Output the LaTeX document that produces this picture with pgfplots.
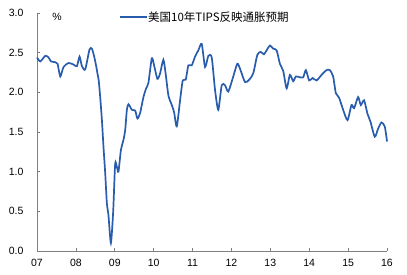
\documentclass[border=0pt]{standalone}
\usepackage{pgfplots}
\pgfplotsset{compat=1.18}
\usepackage{fontspec}
\setmainfont{Liberation Sans}
\newfontfamily\cjk{Noto Sans CJK SC}
\definecolor{line}{RGB}{40,92,172}
\definecolor{axgray}{RGB}{128,128,128}
\begin{document}
\begin{tikzpicture}[x=1pt,y=1pt]
\begin{axis}[
  scale only axis, width=350pt, height=238pt,
  xmin=7, xmax=16, ymin=0, ymax=3,
  axis lines=left, axis line style={axgray, line width=0.6pt, -},
  tick align=inside, tick style={axgray, line width=0.6pt},
  major tick length=3pt,
  xtick={7,...,16},
  xticklabels={07,08,09,10,11,12,13,14,15,16},
  ytick={0,0.5,...,3.0},
  yticklabel style={/pgf/number format/.cd, fixed, fixed zerofill, precision=1, /tikz/.cd, xshift=-10pt},
  xticklabel style={yshift=-4.5pt},
  /pgf/number format/assume math mode=true,
  tick label style={font=\fontsize{10.5}{12}\selectfont, text=black},
  clip=false,
]
\addplot[line, line width=1.7pt, smooth, tension=0.4] coordinates {
(7.000,2.44) (7.085,2.39) (7.213,2.46) (7.298,2.44) (7.359,2.39) (7.470,2.38)
(7.529,2.36) (7.598,2.20) (7.683,2.32) (7.811,2.37) (7.940,2.35) (8.027,2.33)
(8.094,2.45) (8.155,2.33) (8.240,2.29) (8.350,2.54) (8.412,2.55) (8.471,2.45)
(8.522,2.33) (8.561,2.22) (8.587,2.15) (8.625,1.94) (8.669,1.65) (8.710,1.31)
(8.754,0.98) (8.797,0.60) (8.838,0.45) (8.900,0.10) (8.959,0.50) (9.010,1.10)
(9.054,1.06) (9.095,1.00) (9.157,1.27) (9.223,1.40) (9.267,1.52) (9.311,1.78)
(9.352,1.85) (9.439,1.78) (9.524,1.77) (9.583,1.67) (9.652,1.74) (9.737,1.94)
(9.806,2.05) (9.865,2.12) (9.952,2.43) (10.011,2.34) (10.096,2.17) (10.166,2.24)
(10.250,2.41) (10.312,2.22) (10.379,1.96) (10.466,1.84) (10.525,1.75) (10.594,1.57)
(10.679,1.90) (10.748,2.15) (10.825,2.16) (10.892,2.34) (10.979,2.34) (11.064,2.45)
(11.149,2.53) (11.236,2.61) (11.321,2.32) (11.406,2.46) (11.493,2.44) (11.578,2.03)
(11.662,1.78) (11.750,2.09) (11.834,2.09) (11.919,2.01) (12.047,2.20) (12.150,2.36)
(12.219,2.30) (12.348,2.13) (12.458,2.16) (12.561,2.24) (12.664,2.47) (12.751,2.51)
(12.836,2.48) (12.905,2.53) (12.990,2.59) (13.074,2.55) (13.162,2.53) (13.246,2.36)
(13.331,2.27) (13.419,2.05) (13.503,2.22) (13.588,2.14) (13.657,2.20) (13.760,2.19)
(13.845,2.19) (13.914,2.28) (13.999,2.15) (14.086,2.18) (14.189,2.15) (14.317,2.22)
(14.445,2.28) (14.530,2.28) (14.615,2.20) (14.684,1.99) (14.769,1.93) (14.872,1.78)
(14.985,1.65) (15.087,1.84) (15.154,1.80) (15.257,1.94) (15.326,1.84) (15.411,1.90)
(15.498,1.73) (15.575,1.63) (15.685,1.44) (15.770,1.54) (15.857,1.62) (15.942,1.57)
(16.001,1.38)
};
\draw[line, line width=1.7pt] (axis description cs:0.237,0.983) -- (axis description cs:0.314,0.983);
\node[anchor=west, inner sep=0pt, font=\cjk\fontsize{11.5}{12}\selectfont] at (axis description cs:0.317,0.983) {美国10年TIPS反映通胀预期};
\node[anchor=center, inner sep=0pt, font=\fontsize{10.5}{12}\selectfont] at (axis description cs:0.057,0.983) {\%};
\end{axis}
\pgfresetboundingbox
\path (current axis.south west) ++(-37pt,-23pt) rectangle ++(407pt,274pt);
\end{tikzpicture}
\end{document}
